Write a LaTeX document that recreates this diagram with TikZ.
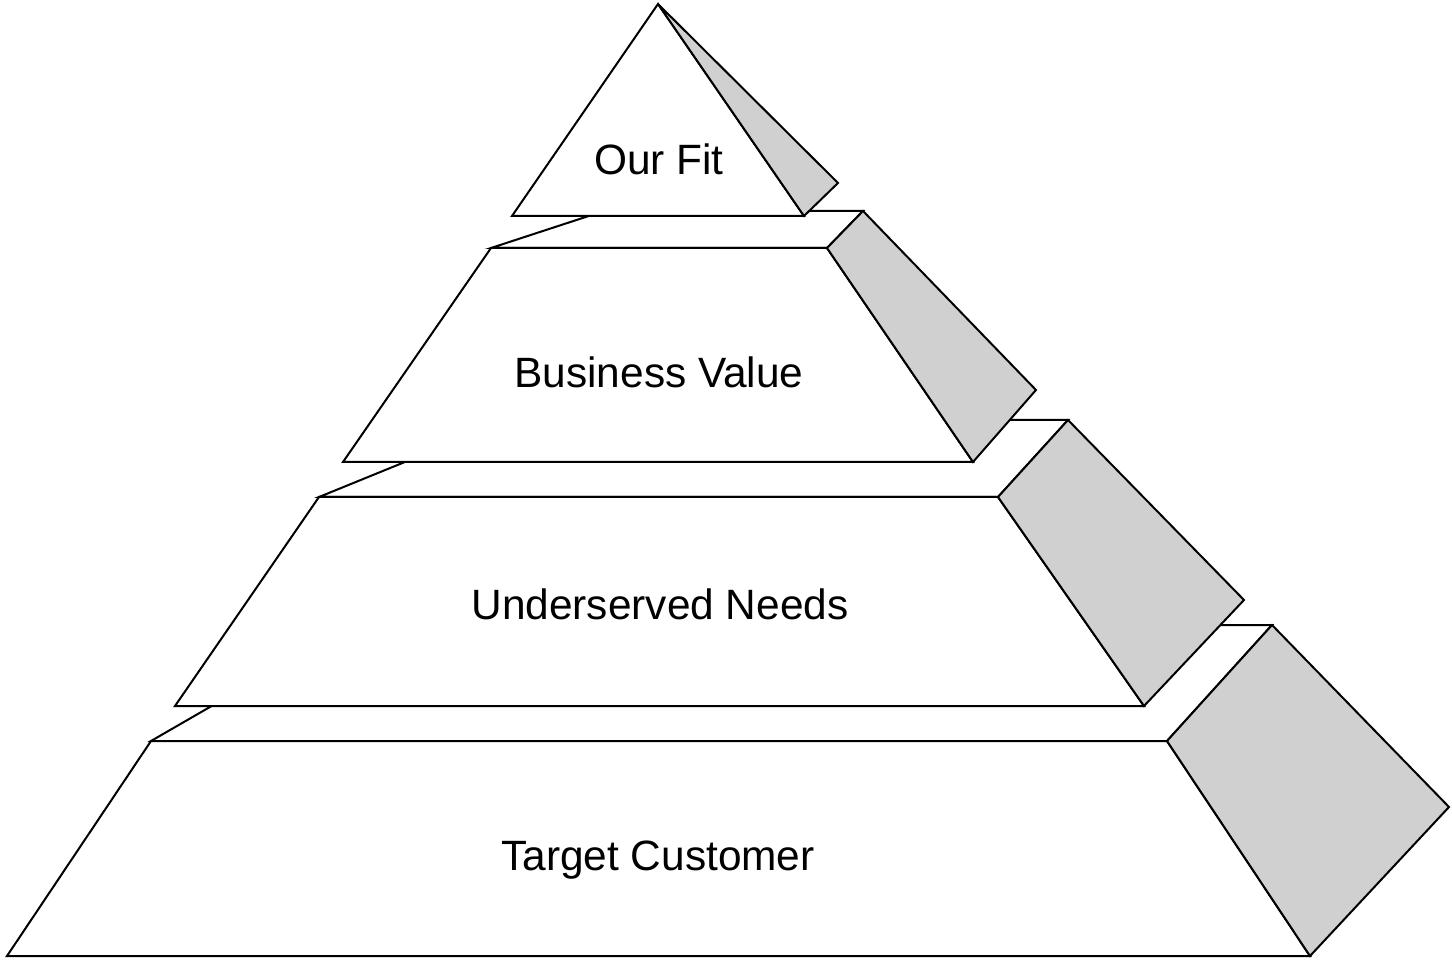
\documentclass[tikz,border=0pt]{standalone}
\usepackage{fontspec}
\setmainfont{Liberation Sans}
\definecolor{sideface}{RGB}{208,208,208}
\begin{document}
\begin{tikzpicture}[x=0.5pt,y=-0.5pt,
  face/.style={draw=black,line width=1pt,line join=miter,fill=white},
  sidewall/.style={face,fill=sideface},
  tierlabel/.style={font=\fontsize{21.2}{25}\selectfont,anchor=base,inner sep=0pt}]
\useasboundingbox (0,0) rectangle (1452,962);

% ---- bottom tier: Target Customer ----
\coordinate (d-fl) at (151,741);  \coordinate (d-fr) at (1167,741);
\coordinate (d-br) at (1272,625); \coordinate (d-bl) at (352,625);
\coordinate (d-ll) at (7,956);    \coordinate (d-lr) at (1310,956);
\coordinate (d-far) at (1449,807);
\draw[face] (d-fl) -- (d-fr) -- (d-br) -- (d-bl) -- cycle;
\draw[face] (d-fl) -- (d-fr) -- (d-lr) -- (d-ll) -- cycle;
\draw[sidewall] (d-fr) -- (d-br) -- (d-far) -- (d-lr) -- cycle;

% ---- third tier: Underserved Needs ----
\coordinate (c-fl) at (319,497);  \coordinate (c-fr) at (998,497);
\coordinate (c-br) at (1068,420); \coordinate (c-bl) at (508,420);
\coordinate (c-ll) at (175,706);  \coordinate (c-lr) at (1144,706);
\coordinate (c-far) at (1244,600);
\draw[face] (c-fl) -- (c-fr) -- (c-br) -- (c-bl) -- cycle;
\draw[face] (c-fl) -- (c-fr) -- (c-lr) -- (c-ll) -- cycle;
\draw[sidewall] (c-fr) -- (c-br) -- (c-far) -- (c-lr) -- cycle;

% ---- second tier: Business Value ----
\coordinate (b-fl) at (491,248);  \coordinate (b-fr) at (827,248);
\coordinate (b-br) at (863,211);  \coordinate (b-bl) at (604,211);
\coordinate (b-ll) at (343,462);  \coordinate (b-lr) at (973,462);
\coordinate (b-far) at (1036,390);
\draw[face] (b-fl) -- (b-fr) -- (b-br) -- (b-bl) -- cycle;
\draw[face] (b-fl) -- (b-fr) -- (b-lr) -- (b-ll) -- cycle;
\draw[sidewall] (b-fr) -- (b-br) -- (b-far) -- (b-lr) -- cycle;

% ---- apex: Our Fit ----
\coordinate (a-top) at (658,4);
\coordinate (a-ll) at (512,216);  \coordinate (a-lr) at (804,216);
\coordinate (a-far) at (838,183);
\draw[face] (a-top) -- (a-lr) -- (a-ll) -- cycle;
\draw[sidewall] (a-top) -- (a-far) -- (a-lr) -- cycle;

% ---- labels ----
\node[tierlabel] (fit)   at (659,175) {Our Fit};
\node[tierlabel] (value) at (659,388) {Business Value};
\node[tierlabel] (needs) at (660,619) {Underserved Needs};
\node[tierlabel] (cust)  at (658,870) {Target Customer};
\end{tikzpicture}
\end{document}
